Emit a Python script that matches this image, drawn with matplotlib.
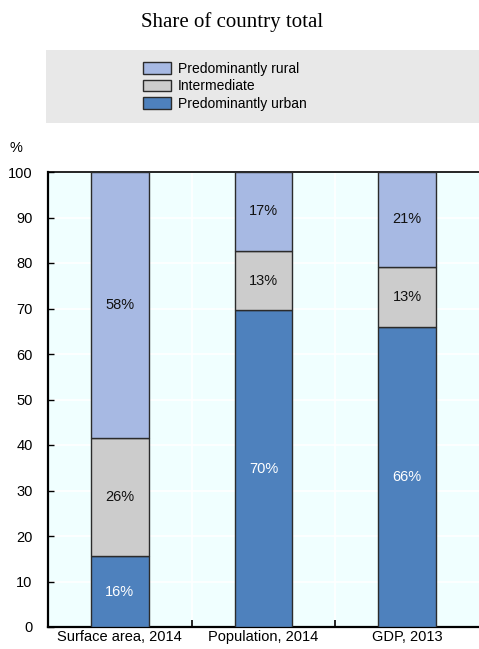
import numpy as np
import matplotlib.pyplot as plt
from matplotlib.patches import Rectangle, Patch

categories = ['Surface area, 2014', 'Population, 2014', 'GDP, 2013']
urban = [15.6, 69.6, 65.9]
intermediate = [26.0, 13.1, 13.3]
rural = [58.4, 17.3, 20.8]
urban_labels = ['16%', '70%', '66%']
intermediate_labels = ['26%', '13%', '13%']
rural_labels = ['58%', '17%', '21%']

c_rural = '#A7B9E3'
c_inter = '#CCCCCC'
c_urban = '#4E81BD'
edge = '#2b2b2b'

plt.rcParams['font.family'] = ['Liberation Sans', 'DejaVu Sans']

fig = plt.figure(figsize=(4.79, 6.49), dpi=100)
ax = fig.add_axes([48 / 479, 22 / 649, 431 / 479, 455 / 649])
ax.set_facecolor('#F0FFFF')

x = np.arange(len(categories))
w = 0.40
bottom_int = np.array(urban)
bottom_rur = bottom_int + np.array(intermediate)

ax.bar(x, urban, w, color=c_urban, edgecolor=edge, linewidth=1, zorder=3)
ax.bar(x, intermediate, w, bottom=bottom_int, color=c_inter, edgecolor=edge, linewidth=1, zorder=3)
ax.bar(x, rural, w, bottom=bottom_rur, color=c_rural, edgecolor=edge, linewidth=1, zorder=3)

fs = 10.5
for i in range(len(categories)):
    ax.text(x[i], urban[i] / 2, urban_labels[i], ha='center', va='center', color='white', fontsize=fs, zorder=4)
    ax.text(x[i], bottom_int[i] + intermediate[i] / 2, intermediate_labels[i], ha='center', va='center', color='#111111', fontsize=fs, zorder=4)
    ax.text(x[i], bottom_rur[i] + rural[i] / 2, rural_labels[i], ha='center', va='center', color='#111111', fontsize=fs, zorder=4)

ax.set_xlim(-0.5, 2.5)
ax.set_ylim(0, 100)
ax.set_yticks(np.arange(0, 101, 10))
ax.set_xticks(x)
ax.set_xticklabels(categories, fontsize=fs)
ax.set_xticks([0.5, 1.5], minor=True)
ax.tick_params(axis='x', which='major', length=0, pad=2)
ax.tick_params(axis='x', which='minor', direction='in', length=5, width=1.2, color='black')
ax.tick_params(axis='y', direction='in', length=4, width=1, labelsize=fs, pad=11)
for lab in ax.get_yticklabels():
    lab.set_horizontalalignment('right')

ax.yaxis.grid(True, color='white', linewidth=1.2, zorder=1)
ax.xaxis.grid(True, which='minor', color='white', linewidth=1.2, zorder=1)
ax.set_axisbelow(True)

ax.spines['right'].set_visible(False)
ax.spines['top'].set_linewidth(1.2)
ax.spines['left'].set_linewidth(1.6)
ax.spines['bottom'].set_linewidth(1.6)

fig.text(9 / 479, 1 - 148 / 649, '%', fontsize=fs, ha='left', va='center')

fig.text(232 / 479, 1 - 22 / 649, 'Share of country total', fontsize=15,
         family=['Liberation Serif', 'DejaVu Serif'], ha='center', va='center')

fig.patches.append(Rectangle((46 / 479, 1 - 123 / 649), 433 / 479, 73 / 649,
                             transform=fig.transFigure, facecolor='#E8E8E8',
                             edgecolor='none', zorder=0))
handles = [Patch(facecolor=c_rural, edgecolor=edge, label='Predominantly rural'),
           Patch(facecolor=c_inter, edgecolor=edge, label='Intermediate'),
           Patch(facecolor=c_urban, edgecolor=edge, label='Predominantly urban')]
fig.legend(handles=handles, loc='upper left', bbox_to_anchor=(143 / 479, 1 - 62 / 649),
           frameon=False, fontsize=10, handlelength=2.0, handleheight=0.9,
           handletextpad=0.5, labelspacing=0.25, borderpad=0, borderaxespad=0)

fig.savefig('out.png', dpi=100)
